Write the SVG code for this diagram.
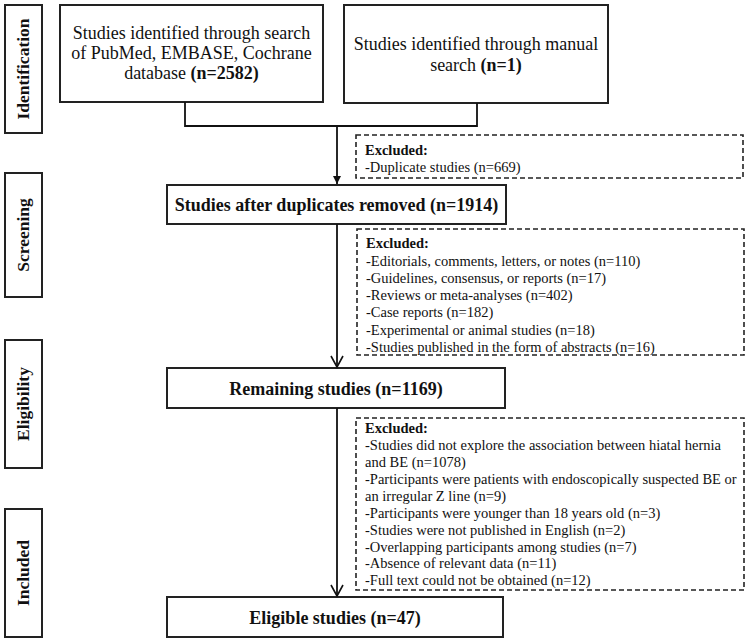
<svg xmlns="http://www.w3.org/2000/svg" width="748" height="644" viewBox="0 0 748 644">
<defs>
<marker id="tri" markerWidth="10" markerHeight="10" refX="8" refY="5" orient="auto" markerUnits="userSpaceOnUse">
<path d="M0,1 L8,5 L0,9 Z" fill="#111"/>
</marker>
<marker id="vee" markerWidth="14" markerHeight="14" refX="12" refY="7" orient="auto" markerUnits="userSpaceOnUse">
<path d="M1,1 L12,7 L1,13" fill="none" stroke="#111" stroke-width="1.6"/>
</marker>
</defs>
<style>
.box{fill:#fff;stroke:#222;stroke-width:2}
.dash{fill:#fff;stroke:#222;stroke-width:1.6;stroke-dasharray:5,3}
.t{font-family:"Liberation Serif","Times New Roman",serif;fill:#111}
.c{font-size:18px;text-anchor:middle}
.b{font-weight:bold}
.h{font-size:18px;font-weight:bold;text-anchor:middle}
.s{font-size:14.5px}
.side{font-size:17.5px;font-weight:bold;text-anchor:middle}
.ln{fill:none;stroke:#111;stroke-width:1.8}
</style>
<g id="side-identification"><rect class="box" x="5" y="5" width="37" height="128"/><text class="t side" transform="translate(29,69) rotate(-90)">Identification</text></g>
<g id="side-screening"><rect class="box" x="5" y="173" width="37" height="124"/><text class="t side" transform="translate(29,235) rotate(-90)">Screening</text></g>
<g id="side-eligibility"><rect class="box" x="5" y="340" width="37" height="128"/><text class="t side" transform="translate(29,404) rotate(-90)">Eligibility</text></g>
<g id="side-included"><rect class="box" x="5" y="509" width="37" height="128"/><text class="t side" transform="translate(29,573) rotate(-90)">Included</text></g>

<g id="n-database"><rect class="box" x="60" y="5" width="263" height="97"/>
<text class="t c" x="191.5" y="39">Studies identified through search</text>
<text class="t c" x="191.5" y="59">of PubMed, EMBASE, Cochrane</text>
<text class="t c" x="191.5" y="79">database <tspan class="b">(n=2582)</tspan></text></g>
<g id="n-manual"><rect class="box" x="344" y="5" width="264" height="98"/>
<text class="t c" x="476" y="50">Studies identified through manual</text>
<text class="t c" x="476" y="71">search <tspan class="b">(n=1)</tspan></text></g>
<g id="x-duplicates"><rect class="dash" x="356" y="135" width="387" height="43"/>
<text class="t s" x="365" y="155"><tspan class="b">Excluded:</tspan></text>
<text class="t s" x="365" y="172">-Duplicate studies (n=669)</text></g>
<g id="n-after"><rect class="box" x="167" y="185" width="339" height="39"/>
<text class="t h" x="336.5" y="211">Studies after duplicates removed (n=1914)</text></g>
<g id="x-screening"><rect class="dash" x="357" y="229" width="387" height="126"/>
<text class="t s" x="366" y="248"><tspan class="b">Excluded:</tspan></text>
<text class="t s" x="366" y="265.5">-Editorials, comments, letters, or notes (n=110)</text>
<text class="t s" x="366" y="283">-Guidelines, consensus, or reports (n=17)</text>
<text class="t s" x="366" y="300">-Reviews or meta-analyses (n=402)</text>
<text class="t s" x="366" y="317">-Case reports (n=182)</text>
<text class="t s" x="366" y="334.5">-Experimental or animal studies (n=18)</text>
<text class="t s" x="366" y="351.5">-Studies published in the form of abstracts (n=16)</text></g>
<g id="n-remaining"><rect class="box" x="167" y="368" width="338" height="40"/>
<text class="t h" x="336" y="395">Remaining studies (n=1169)</text></g>
<g id="x-eligibility"><rect class="dash" x="356" y="418" width="388" height="172"/>
<text class="t s" x="365" y="433"><tspan class="b">Excluded:</tspan></text>
<text class="t s" x="365" y="450">-Studies did not explore the association between hiatal hernia</text>
<text class="t s" x="365" y="467">and BE (n=1078)</text>
<text class="t s" x="365" y="484">-Participants were patients with endoscopically suspected BE or</text>
<text class="t s" x="365" y="500.5">an irregular Z line (n=9)</text>
<text class="t s" x="365" y="517.5">-Participants were younger than 18 years old (n=3)</text>
<text class="t s" x="365" y="534.5">-Studies were not published in English (n=2)</text>
<text class="t s" x="365" y="551.5">-Overlapping participants among studies (n=7)</text>
<text class="t s" x="365" y="568">-Absence of relevant data (n=11)</text>
<text class="t s" x="365" y="585">-Full text could not be obtained (n=12)</text></g>
<g id="n-eligible"><rect class="box" x="167" y="597" width="336" height="40"/>
<text class="t h" x="335" y="624">Eligible studies (n=47)</text></g>

<g id="connectors">
<path class="ln" d="M185,102 V126 H477 V103"/>
<path class="ln" d="M337,126 V184" marker-end="url(#tri)"/>
<path class="ln" d="M337,224 V367" marker-end="url(#vee)"/>
<path class="ln" d="M337,408 V596" marker-end="url(#vee)"/>
</g>
</svg>
